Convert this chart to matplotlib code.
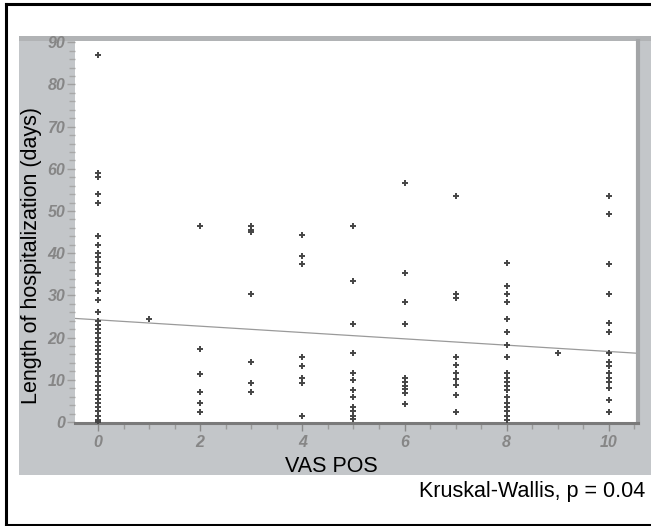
import numpy as np
import matplotlib
matplotlib.use("Agg")
import matplotlib.pyplot as plt
from matplotlib.patches import Rectangle
from matplotlib.lines import Line2D
from matplotlib.ticker import MultipleLocator

plt.rcParams['font.family'] = ['Liberation Sans', 'DejaVu Sans']

# length of hospitalization (days), one list per VAS POS score
los_vas0 = [87, 59, 58, 54, 52, 44, 42, 40, 39, 38, 36.5, 35, 33, 31, 29, 26, 24,
            23, 22, 21, 20, 19, 18, 17, 16, 15, 14, 13, 12, 11, 9.5, 8.5, 7.5,
            6.5, 5.5, 4.5, 3.5, 2.5, 1.5, 0.5, 0]
los_vas1 = [24.4]
los_vas2 = [46.5, 17.3, 11.4, 7.2, 4.5, 2.4]
los_vas3 = [46.5, 45.5, 45, 30.3, 14.3, 9.3, 7.2]
los_vas4 = [44.3, 39.4, 37.4, 15.5, 13.3, 10.4, 9.2, 1.3]
los_vas5 = [46.5, 33.4, 23.2, 16.3, 11.6, 10, 7.6, 6, 3.6, 2.5, 1.5, 0.8]
los_vas6 = [56.6, 35.4, 28.4, 23.2, 10.4, 9.5, 8.6, 7.8, 6.9, 4.3]
los_vas7 = [53.6, 30.3, 29.4, 15.4, 13.4, 11.6, 10.2, 8.8, 6.4, 2.4]
los_vas8 = [37.6, 32.3, 30.3, 28.5, 24.5, 21.3, 18.3, 15.4, 11.6, 10.5, 9.5,
            8.5, 7.5, 6, 4.5, 3.5, 2.5, 1.5, 0.5]
los_vas9 = [16.3]
los_vas10 = [53.6, 49.4, 37.5, 30.3, 23.5, 21.3, 16.3, 14.1, 13.2, 11.6, 10.5,
             9.5, 8.1, 5.2, 2.4]

# fitted line
fit_intercept = 24.2
fit_slope = -0.75

columns = [los_vas0, los_vas1, los_vas2, los_vas3, los_vas4, los_vas5,
           los_vas6, los_vas7, los_vas8, los_vas9, los_vas10]
x = np.concatenate([np.full(len(c), i) for i, c in enumerate(columns)])
y = np.concatenate([np.array(c, dtype=float) for c in columns])

W, H = 651, 526
fig = plt.figure(figsize=(W / 100, H / 100), dpi=100)
fig.patch.set_facecolor('white')

def px(x0, y0, w, h):
    # pixel box (top-left origin) -> figure fraction
    return [x0 / W, 1 - (y0 + h) / H, w / W, h / H]

# grey panel behind the plot
b = px(19, 36, 640, 439)
fig.patches.append(Rectangle((b[0], b[1]), b[2], b[3], transform=fig.transFigure,
                             facecolor='#c3c6c9', edgecolor='none', zorder=-2))
b = px(19, 36, 640, 5)
fig.patches.append(Rectangle((b[0], b[1]), b[2], b[3], transform=fig.transFigure,
                             facecolor='#b1b3b5', edgecolor='none', zorder=-1))

# black outer frame (right side is cut off)
fig.lines.append(Line2D([6 / W, 1], [1 - 4 / H, 1 - 4 / H], transform=fig.transFigure,
                        color='black', lw=2.2))
fig.lines.append(Line2D([6 / W, 6 / W], [1 - 4 / H, 1 - 525 / H], transform=fig.transFigure,
                        color='black', lw=2.2))
fig.lines.append(Line2D([6 / W, 1], [1 - 525 / H, 1 - 525 / H], transform=fig.transFigure,
                        color='black', lw=2.2))

ax = fig.add_axes(px(75, 41, 563, 382))
ax.set_facecolor('white')
ax.set_xlim(-0.45, 10.57)
ax.set_ylim(-0.25, 90.3)

ax.plot(x, y, linestyle='none', marker='+', ms=4.5, mew=1.4, color='#454545', zorder=3)

xs = np.array(ax.get_xlim())
ax.plot(xs, fit_intercept + fit_slope * xs, color='#9a9a9a', lw=0.9, zorder=2)

for s in ['top', 'left']:
    ax.spines[s].set_visible(False)
ax.spines['right'].set_color('#a3a5a7')
ax.spines['right'].set_linewidth(3)
ax.spines['bottom'].set_color('#7a7a7a')
ax.spines['bottom'].set_linewidth(2.2)

ax.xaxis.set_major_locator(MultipleLocator(2))
ax.xaxis.set_minor_locator(MultipleLocator(0.5))
ax.yaxis.set_major_locator(MultipleLocator(10))
ax.yaxis.set_minor_locator(MultipleLocator(2))
ax.tick_params(axis='x', which='major', length=6, width=1, color='#8a8a8a', pad=2.5)
ax.tick_params(axis='x', which='minor', length=4, width=1, color='#9a9a9a')
ax.tick_params(axis='y', which='major', length=6, width=1, color='#a0a0a0', pad=1)
ax.tick_params(axis='y', which='minor', length=4, width=1, color='#a8a8a8')
for lab in ax.get_xticklabels() + ax.get_yticklabels():
    lab.set_fontstyle('italic')
    lab.set_fontweight('bold')
    lab.set_color('#868686')
    lab.set_fontsize(11.5)

fig.text(32 / W, 1 - 256 / H, 'Length of hospitalization (days)', rotation=90,
         ha='center', va='center', fontsize=15.5, color='black')
fig.text(331 / W, 1 - 466 / H, 'VAS POS', ha='center', va='center',
         fontsize=15.5, color='black')
fig.text(645 / W, 1 - 491 / H, 'Kruskal-Wallis, p = 0.04', ha='right', va='center',
         fontsize=15.5, color='black')

fig.savefig('out.png', dpi=100)
